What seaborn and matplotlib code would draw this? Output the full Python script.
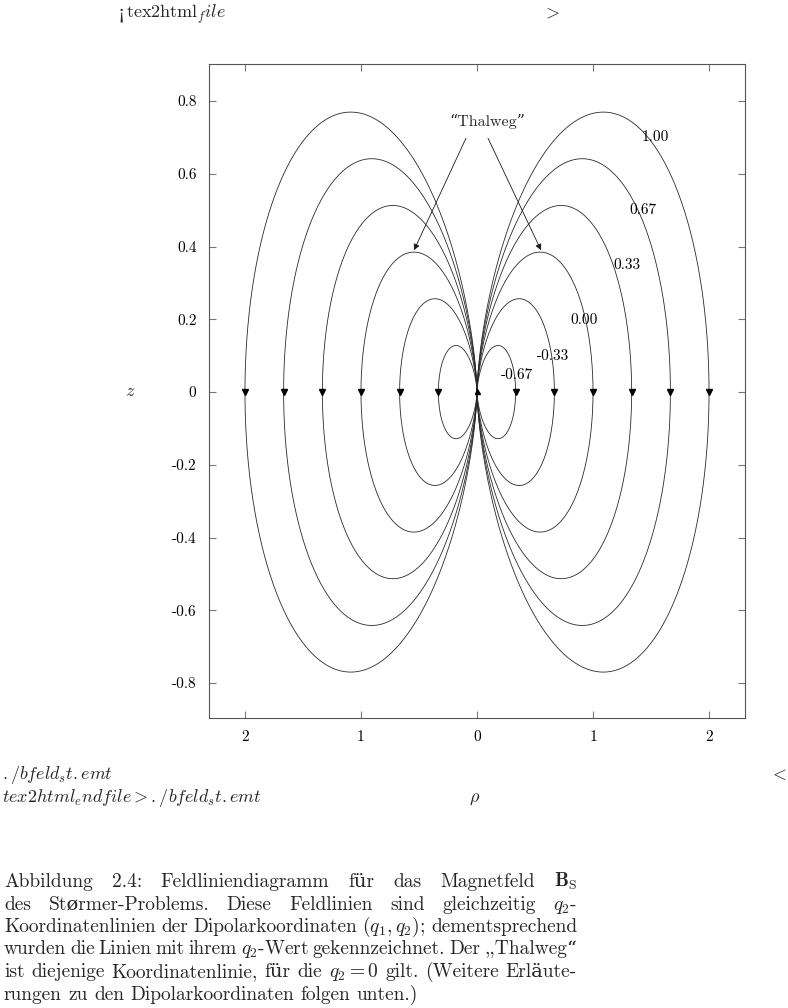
import numpy as np
import pandas as pd
import matplotlib
matplotlib.use("Agg")
import matplotlib.pyplot as plt
import seaborn as sns

# ---------------- data ----------------
# equatorial crossing radius (rho at z=0) of each dipole field line
shell_L = [2.0, 1.667, 1.333, 1.0, 0.667, 0.333]
q2_labels = ["1.00", "0.67", "0.33", "0.00", "-0.33", "-0.67"]
label_rho = [1.534, 1.431, 1.293, 0.922, 0.655, 0.345]
label_z = [0.701, 0.500, 0.349, 0.198, 0.099, 0.047]
x_ticks = [-2, -1, 0, 1, 2]
x_ticklabels = ["2", "1", "0", "1", "2"]
y_ticks = [-0.8, -0.6, -0.4, -0.2, 0, 0.2, 0.4, 0.6, 0.8]
y_ticklabels = ["-0.8", "-0.6", "-0.4", "-0.2", "0", "0.2", "0.4", "0.6", "0.8"]
thalweg_start = [(-0.095, 0.698), (0.095, 0.698)]
thalweg_tip = [(-0.543, 0.390), (0.552, 0.390)]

# ---------------- style ----------------
sns.set_theme(style="ticks")
plt.rcParams["font.family"] = ["cmr10", "DejaVu Serif"]
plt.rcParams["mathtext.fontset"] = "cm"
plt.rcParams["axes.unicode_minus"] = False

W, H = 788, 1008
fig = plt.figure(figsize=(W / 100, H / 100), dpi=100, facecolor="white")


def fx(px):
    return px / W


def fy(py):
    return 1 - py / H


ax = fig.add_axes([fx(209), fy(718), fx(745) - fx(209), fy(64) - fy(718)])

# field lines r = L sin^2(theta) in the (rho, z) plane
theta = np.linspace(0, 2 * np.pi, 1441)
frames = []
for L in shell_L:
    frames.append(pd.DataFrame({
        "rho": L * np.sin(theta) ** 3,
        "z": L * np.sin(theta) ** 2 * np.cos(theta),
        "line": L,
    }))
df = pd.concat(frames, ignore_index=True)
sns.lineplot(data=df, x="rho", y="z", units="line", estimator=None, sort=False,
             color="#2a2a2a", lw=0.6, ax=ax, legend=False)

# direction arrows at the equator
eq = pd.DataFrame({"rho": [s * L for L in shell_L for s in (1, -1)], "z": 0.0})
ax.plot(eq["rho"], eq["z"], marker="v", ms=4.2, color="black", ls="none")
ax.plot([0], [0.004], marker="^", ms=3.6, color="black", ls="none")

for lab, xr, zr in zip(q2_labels, label_rho, label_z):
    ax.text(xr, zr, lab, ha="center", va="center", fontsize=11, color="black")

ax.text(0.086, 0.745, "\u201cThalweg\u201d", ha="center", va="center", fontsize=11.5)
for st, tp in zip(thalweg_start, thalweg_tip):
    ax.annotate("", xy=tp, xytext=st,
                arrowprops=dict(arrowstyle="-|>", lw=0.6, color="#1a1a1a",
                                mutation_scale=9, shrinkA=0, shrinkB=0))

ax.set_xlim(-2.31, 2.31)
ax.set_ylim(-0.896, 0.902)
ax.set_xticks(x_ticks)
ax.set_xticklabels(x_ticklabels)
ax.set_yticks(y_ticks)
ax.set_yticklabels(y_ticklabels)
ax.set_xlabel("")
ax.set_ylabel("")
ax.tick_params(direction="in", length=5, width=0.8, color="#777777",
               top=True, right=True, labelsize=11, pad=9, labelcolor="black")
for sp in ax.spines.values():
    sp.set_color("#555555")
    sp.set_linewidth(0.8)

fig.canvas.draw()
renderer = fig.canvas.get_renderer()

# ---------------- surrounding text ----------------
side_fs = 13
t0 = fig.text(fx(118), fy(18), "¡", fontsize=side_fs, va="baseline", ha="left",
              family=["DejaVu Serif"], fontweight="light")
w0 = t0.get_window_extent(renderer).width
fig.text(fx(118 + w0 + 0.5), fy(18), r"tex2html${}_file$", fontsize=side_fs,
         va="baseline", ha="left")
fig.text(fx(542), fy(18), r"$>$", fontsize=side_fs, va="baseline", ha="left")
fig.text(fx(2), fy(779), r"${.}/bfeld_st{.}emt$", fontsize=side_fs, va="baseline", ha="left")
fig.text(fx(2), fy(802), r"$tex2html_endfile > {.}/bfeld_st{.}emt$", fontsize=side_fs,
         va="baseline", ha="left")
fig.text(fx(787), fy(780), r"$<$", fontsize=side_fs, va="baseline", ha="right")
fig.text(fx(475), fy(802), r"$\rho$", fontsize=side_fs, va="baseline", ha="center")
fig.text(fx(130), fy(396), r"$z$", fontsize=side_fs, va="baseline", ha="center")

# ---------------- justified caption ----------------
caption_lines = [
    "Abbildung 2.4: Feldliniendiagramm für das Magnetfeld $\\mathbf{B}_\\mathrm{S}$",
    "des Størmer-Problems. Diese Feldlinien sind gleichzeitig $q_2$-",
    "Koordinatenlinien der Dipolarkoordinaten $(q_1,q_2)$; dementsprechend",
    "wurden die Linien mit ihrem $q_2$-Wert gekennzeichnet. Der ,,Thalweg\u201c",
    "ist diejenige Koordinatenlinie, für die $q_2=0$ gilt. (Weitere Erläute-",
    "rungen zu den Dipolarkoordinaten folgen unten.)",
]
cap_left, cap_right = 4, 577
base0, step = 887, 22.5
cap_fs = 14.0
for i, line in enumerate(caption_lines):
    yb = base0 + i * step
    words = line.split(" ")
    texts = [fig.text(0, fy(yb), w, fontsize=cap_fs, va="baseline", ha="left") for w in words]
    widths = [t.get_window_extent(renderer).width for t in texts]
    if i < len(caption_lines) - 1:
        gap = (cap_right - cap_left - sum(widths)) / (len(words) - 1)
    else:
        gap = cap_fs * 100 / 72 * 0.33
    x = cap_left
    for t, w in zip(texts, widths):
        t.set_x(fx(x))
        x += w + gap

fig.savefig("out.png", dpi=100, facecolor="white")
